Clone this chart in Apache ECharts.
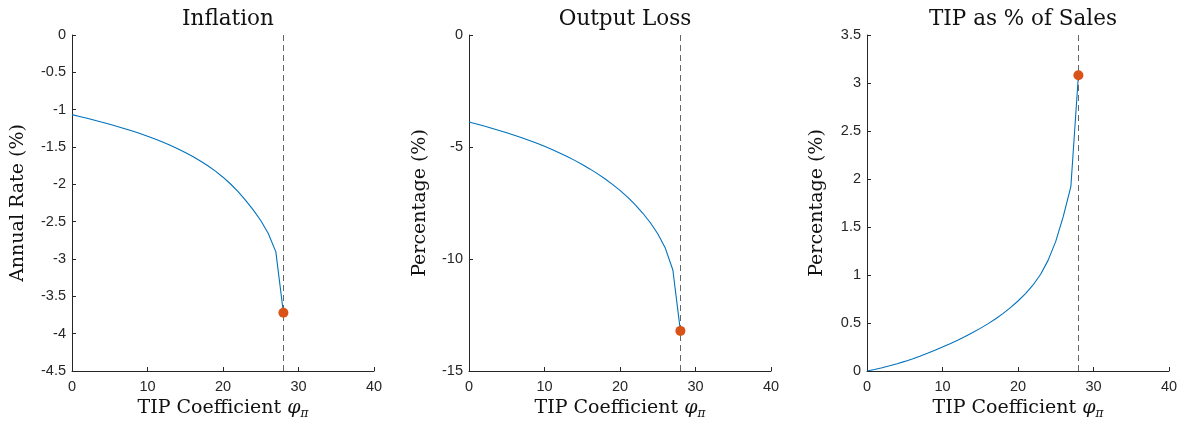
<!DOCTYPE html>
<html>
<head>
<meta charset="utf-8">
<script src="https://cdn.jsdelivr.net/npm/echarts@6/dist/echarts.min.js"></script>
<style>
  html, body { margin: 0; padding: 0; background: #fff; }
  #chart { width: 1183px; height: 427px; }
</style>
</head>
<body>
<div id="chart"></div>
<script>
// TIP coefficient grid
const phi = [0,1,2,3,4,5,6,7,8,9,10,11,12,13,14,15,16,17,18,19,20,21,22,23,24,25,26,27,28];

// Annual inflation rate (%)
const inflation = [-1.066,-1.0905,-1.1155,-1.1413,-1.168,-1.1958,-1.2248,-1.2551,-1.2869,-1.3203,-1.3555,-1.3935,-1.434,-1.4775,-1.5235,-1.5735,-1.6275,-1.6865,-1.7515,-1.8235,-1.9045,-1.9955,-2.0985,-2.2145,-2.3425,-2.4845,-2.6595,-2.9045,-3.72];

// Output loss (%)
const outputLoss = [-3.880,-3.972,-4.066,-4.163,-4.263,-4.367,-4.476,-4.590,-4.710,-4.837,-4.971,-5.113,-5.264,-5.425,-5.597,-5.781,-5.978,-6.190,-6.419,-6.667,-6.937,-7.237,-7.572,-7.947,-8.372,-8.872,-9.512,-10.492,-13.21];

// TIP as a share of sales (%)
const tipSales = [0,0.016,0.034,0.054,0.076,0.100,0.126,0.154,0.184,0.216,0.250,0.285,0.321,0.359,0.400,0.444,0.491,0.542,0.598,0.660,0.729,0.806,0.896,1.008,1.155,1.350,1.610,1.920,3.080];

// Selected coefficient (dashed marker)
const phiStar = 28;

const titles = ['Inflation', 'Output Loss', 'TIP as % of Sales'];
const yNames = ['Annual Rate (%)', 'Percentage (%)', 'Percentage (%)'];
const yMin = [-4.5, -15, 0];
const yMax = [0, 0, 3.5];
const yStep = [0.5, 5, 0.5];
const xTicks = { min: 0, max: 40, interval: 10 };

const panels = [inflation, outputLoss, tipSales];
const lefts = [72, 469, 867];
const plotW = 302, plotTop = 35, plotH = 336;
const yGaps = [44, 39, 40];

const axisColor = '#262626';
const serif = 'DejaVu Serif';
const sans = 'Liberation Sans';

const chart = echarts.init(document.getElementById('chart'), null, { renderer: 'canvas' });

const grid = [], xAxis = [], yAxis = [], series = [], title = [];

panels.forEach((vals, i) => {
  grid.push({ left: lefts[i], top: plotTop, width: plotW, height: plotH, containLabel: false });

  title.push({
    text: titles[i],
    left: lefts[i] + plotW / 2,
    top: 3,
    textAlign: 'center',
    textStyle: { fontFamily: serif, fontWeight: 'normal', fontSize: 21.5, color: '#111' }
  });

  xAxis.push({
    type: 'value', gridIndex: i,
    min: xTicks.min, max: xTicks.max, interval: xTicks.interval,
    name: 'TIP Coefficient {phi|φ}{sub|π}',
    nameLocation: 'middle', nameGap: 25,
    nameTextStyle: {
      fontFamily: serif, fontSize: 19, color: '#111',
      rich: {
        phi: { fontFamily: serif, fontSize: 19, fontStyle: 'italic', color: '#111' },
        sub: { fontFamily: serif, fontSize: 12, fontStyle: 'italic', color: '#111', padding: [10, 0, 0, 0] }
      }
    },
    axisLine: { show: true, onZero: false, lineStyle: { color: axisColor, width: 1 } },
    axisTick: { show: true, inside: true, length: 4, lineStyle: { color: axisColor } },
    axisLabel: { fontFamily: sans, fontSize: 14.5, color: axisColor, margin: 8 },
    splitLine: { show: false }
  });

  yAxis.push({
    type: 'value', gridIndex: i,
    min: yMin[i], max: yMax[i], interval: yStep[i],
    name: yNames[i], nameLocation: 'middle', nameGap: yGaps[i], nameRotate: 90,
    nameTextStyle: { fontFamily: serif, fontSize: 19, color: '#111' },
    axisLine: { show: true, onZero: false, lineStyle: { color: axisColor, width: 1 } },
    axisTick: { show: true, inside: true, length: 4, lineStyle: { color: axisColor } },
    axisLabel: { fontFamily: sans, fontSize: 14.5, color: axisColor, margin: 6 },
    splitLine: { show: false }
  });

  series.push({
    type: 'line', xAxisIndex: i, yAxisIndex: i,
    data: phi.map((p, k) => [p, vals[k]]),
    showSymbol: false, symbol: 'none',
    lineStyle: { color: '#0072BD', width: 1.1 },
    animation: false,
    markLine: {
      silent: true, symbol: 'none', animation: false,
      label: { show: false },
      lineStyle: { color: '#666666', type: [6, 4], width: 1 },
      data: [{ xAxis: phiStar }]
    }
  });

  const k = phi.indexOf(phiStar);
  series.push({
    type: 'scatter', xAxisIndex: i, yAxisIndex: i,
    data: [[phi[k], vals[k]]],
    symbol: 'circle', symbolSize: 10,
    itemStyle: { color: '#D95319', opacity: 1 },
    animation: false, z: 5
  });
});

chart.setOption({
  backgroundColor: '#fff',
  animation: false,
  title, grid, xAxis, yAxis, series
});
</script>
</body>
</html>
